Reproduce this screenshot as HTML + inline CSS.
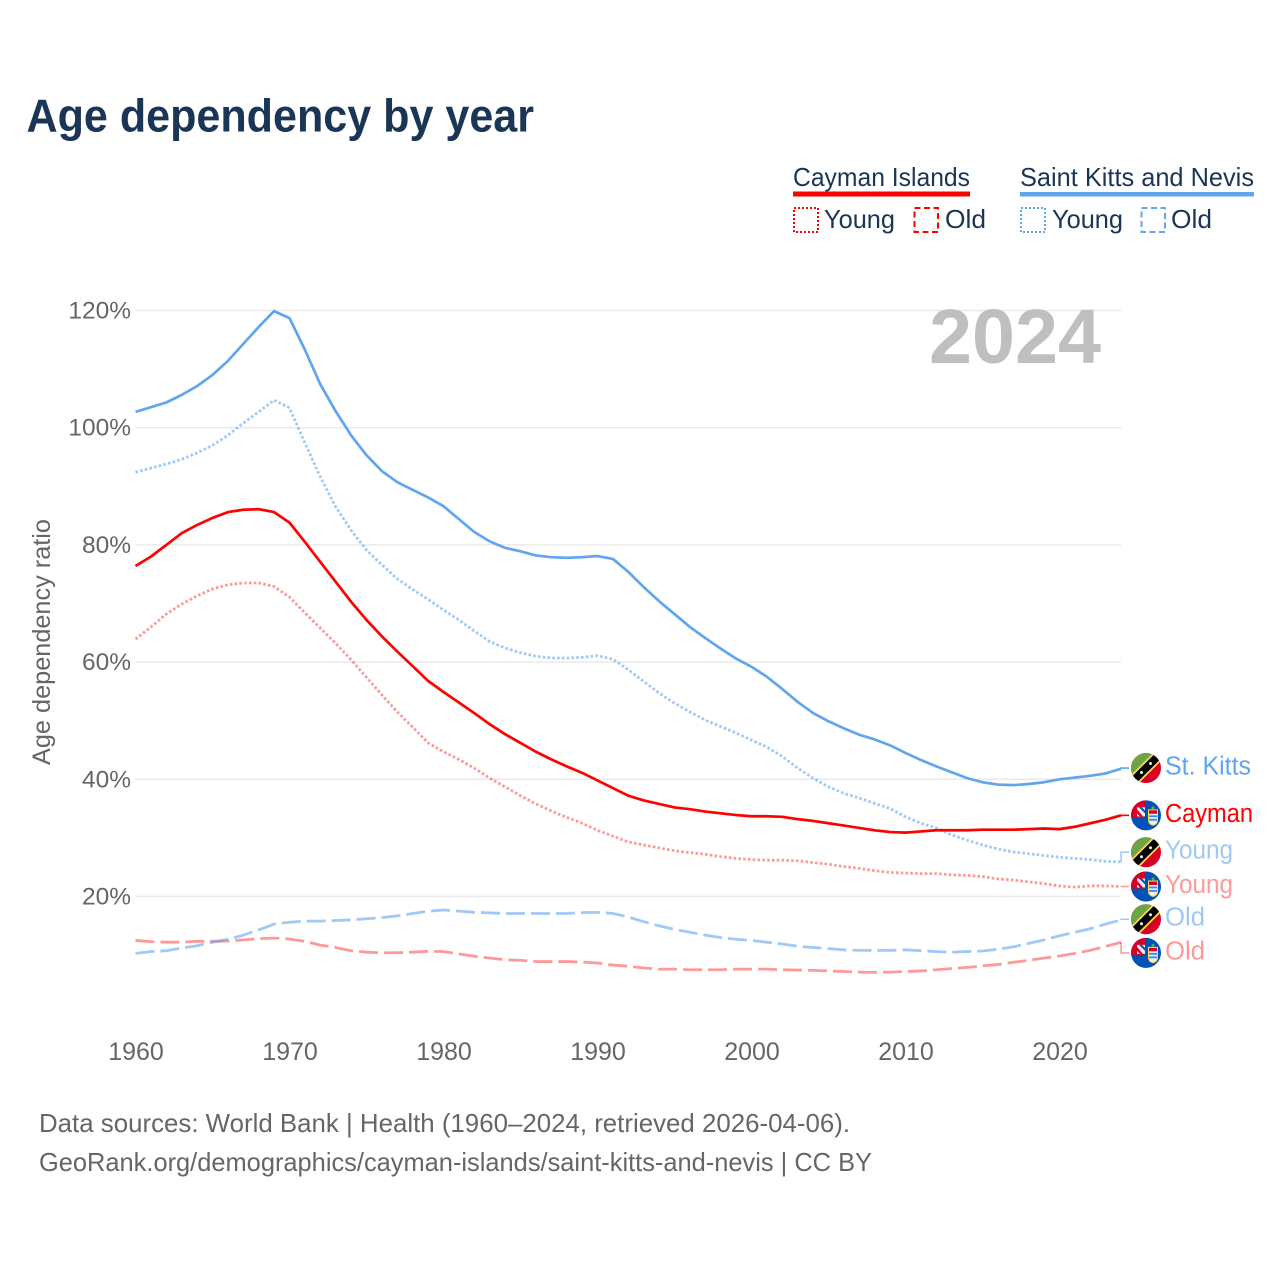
<!DOCTYPE html>
<html lang="en">
<head>
<meta charset="utf-8">
<title>Age dependency by year</title>
<style>
html,body{margin:0;padding:0;background:#fff;}
svg{display:block;}
text{font-family:"Liberation Sans",sans-serif;}
</style>
</head>
<body>
<svg id="chart" xmlns="http://www.w3.org/2000/svg" width="1280" height="1280" viewBox="0 0 1280 1280">
  <rect x="0" y="0" width="1280" height="1280" fill="#fff"/>
  <text x="26.5" y="131.5" font-size="46" font-weight="700" fill="#1a3555" textLength="507.5" lengthAdjust="spacingAndGlyphs">Age dependency by year</text>

  <g font-size="26" fill="#1a3555">
    <text x="793" y="186" textLength="177" lengthAdjust="spacingAndGlyphs">Cayman Islands</text>
    <rect x="793" y="191.5" width="177" height="5" fill="#ff0000"/>
    <rect x="794" y="208" width="24" height="24" fill="none" stroke="#ff0000" stroke-width="2" stroke-dasharray="2 2"/>
    <text x="824" y="228" textLength="71" lengthAdjust="spacingAndGlyphs">Young</text>
    <rect x="914.5" y="208" width="23.5" height="24" fill="none" stroke="#ff0000" stroke-width="2" stroke-dasharray="6 3.5"/>
    <text x="945" y="228" textLength="41" lengthAdjust="spacingAndGlyphs">Old</text>

    <text x="1020" y="186" textLength="234" lengthAdjust="spacingAndGlyphs">Saint Kitts and Nevis</text>
    <rect x="1020" y="192" width="234" height="4.5" fill="#60a5ee"/>
    <rect x="1021" y="208" width="24" height="24" fill="none" stroke="#60a5ee" stroke-width="2" stroke-dasharray="2 2"/>
    <text x="1052" y="228" textLength="71" lengthAdjust="spacingAndGlyphs">Young</text>
    <rect x="1141.5" y="208" width="23.5" height="24" fill="none" stroke="#60a5ee" stroke-width="2" stroke-dasharray="6 3.5"/>
    <text x="1171" y="228" textLength="41" lengthAdjust="spacingAndGlyphs">Old</text>
  </g>

  <g id="grid"></g>
  <g id="yaxis"></g>
  <g id="xaxis"></g>
  <text transform="translate(50,642) rotate(-90)" text-anchor="middle" font-size="25" fill="#666" textLength="246" lengthAdjust="spacingAndGlyphs">Age dependency ratio</text>
  <text x="929" y="363" font-size="77" font-weight="700" fill="#bfbfbf" textLength="172" lengthAdjust="spacingAndGlyphs">2024</text>

  <g id="series"></g>
  <g id="labels"></g>

  <g font-size="26" fill="#666">
    <text x="39" y="1132" textLength="811" lengthAdjust="spacingAndGlyphs">Data sources: World Bank | Health (1960–2024, retrieved 2026-04-06).</text>
    <text x="39" y="1171" textLength="833" lengthAdjust="spacingAndGlyphs">GeoRank.org/demographics/cayman-islands/saint-kitts-and-nevis | CC BY</text>
  </g>
</svg>
<script>
var startYear = 1960;
var xTickLabels = [1960, 1970, 1980, 1990, 2000, 2010, 2020];
var yTickLabels = [20, 40, 60, 80, 100, 120];

var kittsTotal = [102.7,103.5,104.3,105.6,107.1,109,111.4,114.3,117.2,119.9,118.7,113.3,107.4,102.8,98.7,95.3,92.6,90.7,89.4,88.1,86.6,84.4,82.2,80.6,79.5,78.9,78.2,77.9,77.8,77.9,78.1,77.6,75.4,72.8,70.4,68.2,66,64.1,62.3,60.6,59.2,57.5,55.4,53.2,51.3,49.9,48.7,47.6,46.8,45.8,44.5,43.3,42.2,41.2,40.2,39.5,39.1,39,39.2,39.5,40,40.3,40.6,41,41.8];
var kittsYoung = [92.4,93.1,93.8,94.6,95.7,97,98.7,100.8,102.7,104.7,103.4,97.4,91.6,86.5,82.5,79.1,76.6,74.2,72.4,70.7,68.9,67.2,65.3,63.5,62.4,61.6,61,60.7,60.7,60.8,61.1,60.5,58.7,56.7,54.7,53,51.5,50.1,49,47.9,46.7,45.5,43.9,41.9,40.2,38.7,37.6,36.8,35.9,35,33.6,32.5,31.7,30.5,29.6,28.8,28.1,27.6,27.3,27,26.7,26.5,26.3,26,25.9];
var kittsOld = [10.3,10.6,10.75,11.2,11.6,12.2,12.7,13.4,14.3,15.3,15.6,15.8,15.8,15.9,16,16.2,16.4,16.7,17.1,17.5,17.7,17.5,17.3,17.2,17.1,17.1,17.1,17.1,17.1,17.25,17.3,17.1,16.5,15.7,15,14.4,13.9,13.4,13,12.7,12.5,12.2,11.9,11.5,11.3,11.1,10.9,10.8,10.8,10.8,10.9,10.75,10.6,10.5,10.6,10.7,11,11.4,12,12.6,13.3,13.9,14.5,15.3,16];
var caymanTotal = [76.4,78,80,82,83.4,84.6,85.6,86,86.1,85.6,83.8,80.5,77.1,73.7,70.3,67.2,64.4,61.8,59.3,56.8,54.9,53.1,51.3,49.4,47.7,46.2,44.7,43.4,42.2,41.1,39.8,38.5,37.2,36.4,35.8,35.2,34.9,34.5,34.2,33.9,33.7,33.7,33.6,33.2,32.9,32.5,32.1,31.7,31.3,31,30.9,31.1,31.3,31.3,31.3,31.4,31.4,31.4,31.5,31.6,31.5,31.9,32.5,33.1,33.85];
var caymanYoung = [63.9,66,68.2,69.9,71.3,72.5,73.2,73.5,73.5,72.9,71.1,68.4,65.8,63.2,60.4,57.4,54.4,51.5,48.9,46.2,44.7,43.4,41.9,40.2,38.7,37.2,35.8,34.6,33.5,32.5,31.3,30.3,29.3,28.8,28.3,27.8,27.5,27.2,26.8,26.5,26.3,26.2,26.2,26.1,25.8,25.5,25.1,24.8,24.4,24.1,24,23.9,23.9,23.7,23.6,23.4,23,22.8,22.5,22.2,21.8,21.6,21.8,21.8,21.7];
var caymanOld = [12.5,12.3,12.2,12.2,12.35,12.35,12.4,12.6,12.8,12.9,12.75,12.35,11.7,11.3,10.75,10.5,10.4,10.4,10.5,10.65,10.6,10.2,9.8,9.5,9.2,9.1,8.9,8.9,8.9,8.8,8.65,8.3,8.1,7.8,7.6,7.6,7.5,7.5,7.5,7.6,7.6,7.6,7.5,7.45,7.4,7.3,7.2,7.1,7.05,7.1,7.2,7.3,7.5,7.7,7.9,8.15,8.4,8.77,9.1,9.5,9.85,10.3,10.8,11.5,12.2];

var NS = 'http://www.w3.org/2000/svg';
var BLUE = '#60a5ee';
var RED = '#ff0000';
var DOTTED = '2.6 2.2';
var DASHED = '19 6';

function xScale(year) { return 135.5 + (year - startYear) * 15.4; }
function yScale(value) { return 1013.7 - value * 5.86; }

function make(tag, attrs, parent) {
  var el = document.createElementNS(NS, tag);
  for (var k in attrs) { el.setAttribute(k, attrs[k]); }
  if (parent) { parent.appendChild(el); }
  return el;
}

var gridG = document.getElementById('grid');
var yG = document.getElementById('yaxis');
var xG = document.getElementById('xaxis');
var seriesG = document.getElementById('series');
var labelsG = document.getElementById('labels');

yTickLabels.forEach(function (t) {
  var line = make('line', { x1: 135.5, x2: 1121, y1: yScale(t), y2: yScale(t), stroke: '#e9e9e9', 'stroke-width': 1.5 }, gridG);
  
  
  var label = make('text', { x: 131, y: yScale(t) + 8, 'text-anchor': 'end', 'font-size': 24.5, fill: '#666' }, yG);
  
  
  label.textContent = t + '%';
});

xTickLabels.forEach(function (t) {
  var label = make('text', { x: xScale(t) + 0.5, y: 1060, 'text-anchor': 'middle', 'font-size': 25, fill: '#666' }, xG);
  
  
  label.textContent = t;
});

function drawSeries(values, color, opacity, dash, name) {
  var pts = values.map(function (v, i) { return xScale(startYear + i).toFixed(2) + ',' + yScale(v).toFixed(2); });
  var attrs = { points: pts.join(' '), fill: 'none', stroke: color, 'stroke-width': dash ? 2.8 : 2.7, 'stroke-linejoin': 'round', opacity: opacity };
  if (dash) { attrs['stroke-dasharray'] = dash; }
  var line = make('polyline', attrs, seriesG);
  
  
}

drawSeries(caymanOld, RED, 0.4, DASHED, 'line-cayman-old');
drawSeries(kittsOld, BLUE, 0.6, DASHED, 'line-saint-kitts-old');
drawSeries(caymanYoung, RED, 0.4, DOTTED, 'line-cayman-young');
drawSeries(kittsYoung, BLUE, 0.6, DOTTED, 'line-saint-kitts-young');
drawSeries(kittsTotal, BLUE, 1, null, 'line-saint-kitts-total');
drawSeries(caymanTotal, RED, 1, null, 'line-cayman-total');

var defs = make('defs', {}, document.getElementById('chart'));
var clip = make('clipPath', { id: 'flagClip' }, defs);
make('circle', { cx: 0, cy: 0, r: 15 }, clip);

function kittsFlag(g) {
  var c = make('g', { 'clip-path': 'url(#flagClip)' }, g);
  make('rect', { x: -16, y: -16, width: 32, height: 32, fill: '#d80027' }, c);
  make('polygon', { points: '-16,-16 16,-16 -16,16', fill: '#6da544' }, c);
  make('polygon', { points: '-16,8 8,-16 16,-16 16,-8 -8,16 -16,16', fill: '#ffda44' }, c);
  make('polygon', { points: '-16,10.5 10.5,-16 16,-16 16,-10.5 -10.5,16 -16,16', fill: '#000' }, c);
  make('circle', { cx: -4.5, cy: 4.5, r: 1.5, fill: '#f0f0f0' }, c);
  make('circle', { cx: 4.5, cy: -4.5, r: 1.5, fill: '#f0f0f0' }, c);
}

function caymanFlag(g) {
  var c = make('g', { 'clip-path': 'url(#flagClip)' }, g);
  make('rect', { x: -16, y: -16, width: 32, height: 32, fill: '#0052b4' }, c);
  make('polygon', { points: '-16,-16 0,-16 0,-1 -2,2 -16,2', fill: '#d80027' }, c);
  make('polygon', { points: '-9,-8 -1,-8 -1,1 -9,1', fill: '#f0f0f0' }, c);
  make('polygon', { points: '-7,-8 -1,-2 -1,-5 -4,-8', fill: '#0052b4' }, c);
  make('polygon', { points: '-9,-6 -3,1 -6,1 -9,-2', fill: '#d80027' }, c);
  make('path', { d: 'M2,-6 H12 V5 Q12,9 7,10.5 Q2,9 2,5 Z', fill: '#ffda44' }, c);
  make('rect', { x: 3, y: -5, width: 8, height: 3.5, fill: '#d80027' }, c);
  make('path', { d: 'M3,-1.5 H11 V5 Q11,8 7,9.3 Q3,8 3,5 Z', fill: '#f0f0f0' }, c);
  make('rect', { x: 3, y: 0, width: 8, height: 1.8, fill: '#338af3' }, c);
  make('rect', { x: 3, y: 3.5, width: 8, height: 1.8, fill: '#338af3' }, c);
  make('circle', { cx: 7, cy: -7.5, r: 1.5, fill: '#6da544' }, c);
}

var labelTexts = ['St. Kitts', 'Cayman', 'Young', 'Young', 'Old', 'Old'];
var labelSeries = [kittsTotal, caymanTotal, kittsYoung, caymanYoung, kittsOld, caymanOld];
var labelColors = [BLUE, RED, BLUE, RED, BLUE, RED];
var labelOpacity = [1, 1, 0.6, 0.4, 0.6, 0.4];
var labelNudge = [-0.7, 0, -9.7, 0, -0.7, 10.7];
var labelWidths = [86, 88, 68, 68, 40, 40];
var labelFlags = [kittsFlag, caymanFlag, kittsFlag, caymanFlag, kittsFlag, caymanFlag];

labelTexts.forEach(function (txt, i) {
  var endX = xScale(startYear + labelSeries[i].length - 1);
  var endY = yScale(labelSeries[i][labelSeries[i].length - 1]);
  var cy = endY + labelNudge[i];
  var leader = make('polyline', {
    points: endX + ',' + endY + ' ' + endX + ',' + cy + ' ' + (endX + 8) + ',' + cy,
    fill: 'none', stroke: labelColors[i], 'stroke-width': 1.6, opacity: labelOpacity[i]
  }, labelsG);
  
  

  var flag = make('g', { transform: 'translate(1146,' + cy + ')' }, labelsG);
  
  
  labelFlags[i](flag);

  var label = make('text', {
    x: 1165, y: cy + 6.5, 'font-size': 25.5, fill: labelColors[i], opacity: labelOpacity[i],
    textLength: labelWidths[i], lengthAdjust: 'spacingAndGlyphs'
  }, labelsG);
  
  
  label.textContent = txt;
});
</script>
</body>
</html>
